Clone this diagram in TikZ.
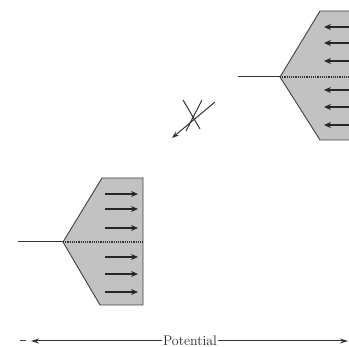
\documentclass[tikz,border=0pt]{standalone}
\usetikzlibrary{arrows.meta}
\begin{document}
\begin{tikzpicture}[x=1pt,y=-1pt,
  shade/.style={draw=black!75,line width=0.9pt,fill=black!24},
  stem/.style={draw=black!80,line width=1pt},
  mid/.style={draw=black!80,line width=1.2pt,densely dotted},
  flux/.style={draw=black!85,line width=1.3pt,-{Stealth[length=7pt,width=6pt]}},
  axis/.style={draw=black!80,line width=1pt,-{Stealth[length=8pt,width=5pt]}},
  lbl/.style={font=\fontsize{13.9}{16}\selectfont,inner sep=1pt,text=black!85}]
\useasboundingbox (0,0) rectangle (349,347);
% upper right shape
\filldraw[shade] (352,11) -- (320,11) -- (280,77) -- (320,140) -- (352,140) -- cycle;
\coordinate (ua) at (238,77);
\coordinate (ut) at (280,77);
\coordinate (ue) at (349,77);
\draw[stem] (ua) -- (ut);
\draw[mid] (ut) -- (ue);
\foreach \y in {27,43,61,90,107,125}
  \draw[flux] (350,\y) -- (324,\y);
% lower left shape
\filldraw[shade] (143,178) -- (102,178) -- (63,242) -- (100,305) -- (143,305) -- cycle;
\coordinate (la) at (18,242);
\coordinate (lt) at (63,242);
\coordinate (le) at (143,242);
\draw[stem] (la) -- (lt);
\draw[mid] (lt) -- (le);
\foreach \y in {194,209,228,257,274,292}
  \draw[flux] (105,\y) -- (138,\y);
% middle crossed-out arrow
\coordinate (ms) at (215,102);
\coordinate (me) at (172,138);
\draw[draw=black!80,line width=1pt,-{Stealth[length=7pt,width=5pt]}] (ms) -- (me);
\coordinate (c1) at (183,100);
\coordinate (c2) at (200,129);
\coordinate (c3) at (202,100);
\coordinate (c4) at (186,131);
\draw[stem] (c1) -- (c2);
\draw[stem] (c3) -- (c4);
% potential axis
\node[lbl] (pot) at (190,341) {Potential};
\coordinate (pl) at (31,341);
\coordinate (pr) at (348,341);
\coordinate (d1) at (20,341);
\coordinate (d2) at (26,341);
\draw[draw=black!75,line width=1pt] (d1) -- (d2);
\draw[axis] (pot.west) -- (pl);
\draw[axis] (pot.east) -- (pr);
\end{tikzpicture}
\end{document}
